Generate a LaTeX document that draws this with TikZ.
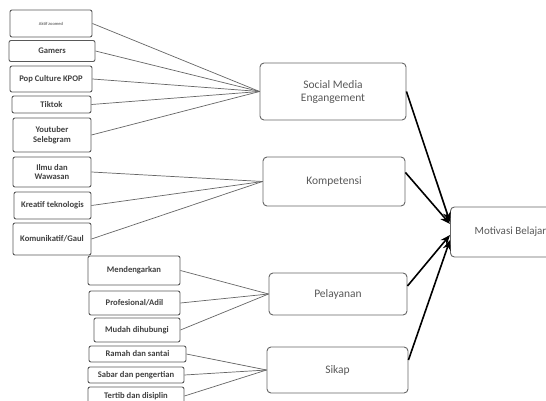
\documentclass[tikz,border=0pt]{standalone}
\usepackage{fontspec}
\setmainfont{Carlito}
\usepackage{xcolor}
\usetikzlibrary{arrows.meta}

\begin{document}
\begin{tikzpicture}[x=1pt,y=-1pt,
    leaf/.style={rectangle, rounded corners=2pt, draw=black!65, line width=0.9pt, align=center, font=\fontsize{8.6}{9.5}\selectfont\bfseries, text=black!75, inner sep=1pt},
    factor/.style={rectangle, rounded corners=4pt, draw=black!60, line width=0.9pt, align=center, font=\fontsize{11.5}{13}\selectfont, text=black!65},
    link/.style={draw=black!60, line width=0.7pt},
    push/.style={draw=black, line width=1.6pt, -{Stealth[length=10pt,width=8pt]}}]
    \useasboundingbox (0,0) rectangle (546,401);
    \fill[white] (0,0) rectangle (546,401);

    % left column
    \node[leaf, minimum width=82pt, minimum height=27pt, font=\fontsize{4.5}{5}\selectfont] (a1) at (51,23.5) {Aktif zoomed};
    \node[leaf, minimum width=86pt, minimum height=21pt] (a2) at (52,51) {Gamers};
    \node[leaf, minimum width=82pt, minimum height=26pt] (a3) at (51,79) {Pop Culture KPOP};
    \node[leaf, minimum width=79pt, minimum height=17pt] (a4) at (51.5,104.5) {Tiktok};
    \node[leaf, minimum width=78pt, minimum height=34pt] (a5) at (52,135) {Youtuber\\Selebgram};
    \node[leaf, minimum width=78pt, minimum height=30pt] (b1) at (52,172) {Ilmu dan\\Wawasan};
    \node[leaf, minimum width=77pt, minimum height=27pt] (b2) at (52.5,205.5) {Kreatif teknologis};
    \node[leaf, minimum width=78pt, minimum height=32pt] (b3) at (52,239) {Komunikatif/Gaul};
    \node[leaf, minimum width=92pt, minimum height=29pt] (c1) at (134,270.5) {Mendengarkan};
    \node[leaf, minimum width=91pt, minimum height=24pt] (c2) at (134.5,303) {Profesional/Adil};
    \node[leaf, minimum width=86pt, minimum height=24pt] (c3) at (137,330) {Mudah dihubungi};
    \node[leaf, minimum width=97pt, minimum height=16pt] (d1) at (137.5,354) {Ramah dan santai};
    \node[leaf, minimum width=96pt, minimum height=16pt] (d2) at (136,375) {Sabar dan pengertian};
    \node[leaf, minimum width=96pt, minimum height=18pt] (d3) at (136,396) {Tertib dan disiplin};

    % middle column
    \node[factor, minimum width=146pt, minimum height=57pt] (sme) at (333,91.5) {Social Media\\Engangement};
    \node[factor, minimum width=142pt, minimum height=49pt] (komp) at (334,181.5) {Kompetensi};
    \node[factor, minimum width=138pt, minimum height=42pt] (pel) at (338,294) {Pelayanan};
    \node[factor, minimum width=141pt, minimum height=46pt] (sik) at (337.5,370) {Sikap};

    % target
    \node[factor, minimum width=120pt, minimum height=50pt, anchor=west, inner xsep=6pt, font=\fontsize{11}{13}\selectfont] (mot) at (450,232) {Motivasi Belajar\hfill};

    \foreach \n in {a1,a2,a3,a4,a5}
        \draw[link] (\n.east) -- (sme.west);
    \foreach \n in {b1,b2,b3}
        \draw[link] (\n.east) -- (komp.west);
    \foreach \n in {c1,c2,c3}
        \draw[link] (\n.east) -- (pel.west);
    \foreach \n in {d1,d2,d3}
        \draw[link] (\n.east) -- (sik.west);

    \draw[push] (sme.east) -- ([yshift=10pt]mot.west);
    \draw[push] ([yshift=9pt]komp.east) -- ([yshift=8pt]mot.west);
    \draw[push] ([yshift=8pt]pel.east) -- ([yshift=-3pt]mot.west);
    \draw[push] ([yshift=10pt]sik.east) -- ([yshift=-8pt]mot.west);
\end{tikzpicture}
\end{document}
